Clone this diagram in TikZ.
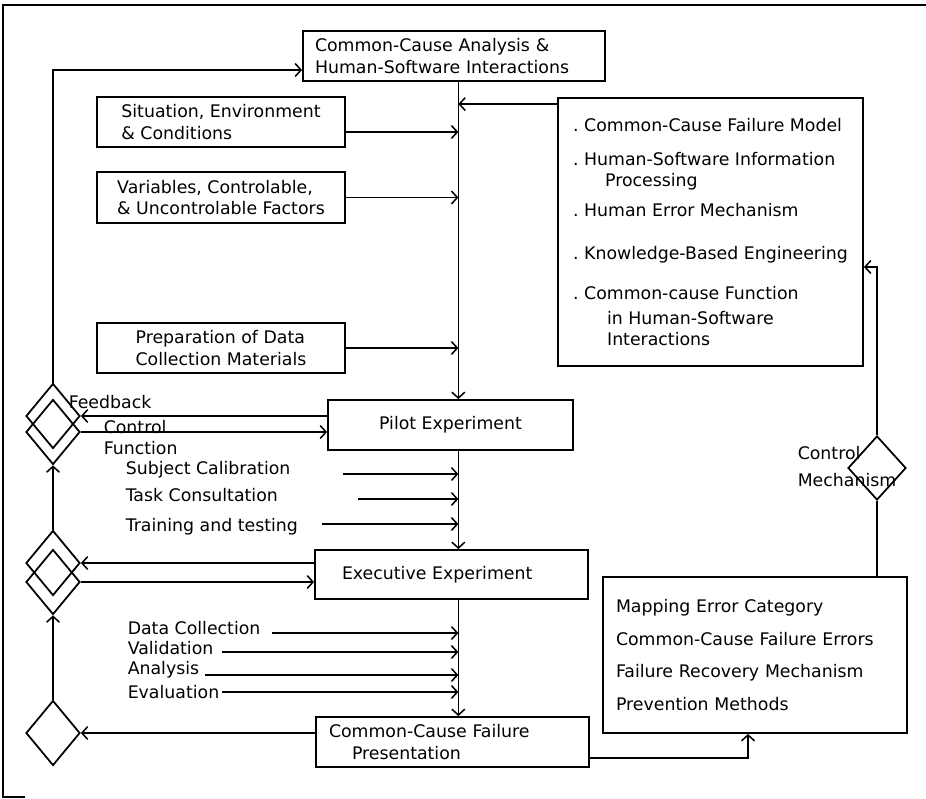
\documentclass[tikz,border=0pt]{standalone}
\usepackage{fontspec}
\setmainfont{DejaVu Sans}
\usetikzlibrary{shapes.geometric,arrows.meta}

\begin{document}
\begin{tikzpicture}[
  font=\fontsize{14.8}{18.5}\selectfont,
  line width=1.3pt,
  box/.style={draw, line width=1.6pt, inner sep=0pt, align=left},
  dia/.style={draw, diamond, line width=1.5pt, minimum width=1.62cm, minimum height=1.95cm, inner sep=0pt},
  lbl/.style={inner sep=0pt, anchor=west, align=left},
  arr/.style={-{Straight Barb[length=5pt,width=11pt]}}]
  \useasboundingbox (0,0) rectangle (27.78,-23.97);
  \draw[line width=1.5pt] (27.78,-0.15) -- (0.09,-0.15) -- (0.09,-23.91) -- (0.75,-23.91);

  \node[box, minimum width=9.06cm, minimum height=1.5cm, text width=8.34cm] (ccahsi) at (13.62,-1.68)
    {Common-Cause Analysis \&\\Human-Software Interactions};
  \node[box, minimum width=7.44cm, minimum height=1.5cm] (sit) at (6.63,-3.66)
    {Situation, Environment\\\& Conditions};
  \node[box, minimum width=7.44cm, minimum height=1.53cm] (var) at (6.63,-5.925)
    {Variables, Controlable,\\\& Uncontrolable Factors};
  \node[box, minimum width=7.44cm, minimum height=1.5cm] (prep) at (6.63,-10.44)
    {Preparation of Data\\Collection Materials};
  \node[box, minimum width=7.35cm, minimum height=1.5cm] (pilot) at (13.515,-12.75) {Pilot Experiment};
  \node[box, minimum width=8.19cm, minimum height=1.47cm, text width=6.57cm] (exec) at (13.545,-17.235)
    {Executive Experiment};
  \node[box, minimum width=8.19cm, minimum height=1.5cm, text width=7.41cm] (ccf) at (13.575,-22.26)
    {Common-Cause Failure\\\hspace*{0.69cm}Presentation};
  \node[box, minimum width=9.15cm, minimum height=8.04cm] (model) at (21.315,-6.96)
    {.\ Common-Cause Failure Model\\[10.4pt]
     .\ Human-Software Information\\
     \hspace*{0.96cm}Processing\\[7pt]
     .\ Human Error Mechanism\\[18pt]
     .\ Knowledge-Based Engineering\\[15.5pt]
     .\ Common-cause Function\\[2.7pt]
     \hspace*{1.02cm}in Human-Software\\
     \hspace*{1.02cm}Interactions};
  \node[box, minimum width=9.12cm, minimum height=4.68cm, text width=8.34cm] (mapping) at (22.65,-19.65)
    {Mapping Error Category\\[9.5pt]
     Common-Cause Failure Errors\\[9.5pt]
     Failure Recovery Mechanism\\[9.5pt]
     Prevention Methods};

  \node[dia] (d1) at (1.59,-12.48) {};
  \node[dia] (d2) at (1.59,-12.96) {};
  \node[dia] (d3) at (1.59,-16.89) {};
  \node[dia] (d4) at (1.59,-17.46) {};
  \node[dia] (d5) at (1.59,-21.99) {};
  \node[dia, minimum width=1.74cm, minimum height=1.92cm] (ctrl) at (26.31,-14.04) {};

  \node[lbl] (lblfb) at (2.04,-12.06) {Feedback};
  \node[lbl] (lblcf) at (3.09,-13.125) {Control\\Function};
  \node[lbl] (lblsubj) at (3.75,-14.1) {Subject Calibration};
  \node[lbl] (lbltask) at (3.75,-14.85) {Task Consultation};
  \node[lbl] (lbltrain) at (3.75,-15.81) {Training and testing};
  \node[lbl] (lbldata) at (3.81,-18.84) {Data Collection};
  \node[lbl] (lblval) at (3.81,-19.44) {Validation};
  \node[lbl] (lblana) at (3.81,-20.1) {Analysis};
  \node[lbl] (lbleval) at (3.81,-20.76) {Evaluation};
  \node[lbl] (lblmech) at (23.91,-14.0) {Control\\[4.3pt]Mechanism};

  \coordinate (sp) at (13.75,0);
  \coordinate (subj) at (10.29,-14.22);
  \coordinate (task) at (10.74,-14.97);
  \coordinate (train) at (9.66,-15.72);
  \coordinate (data) at (8.16,-18.99);
  \coordinate (val) at (6.66,-19.56);
  \coordinate (ana) at (6.15,-20.25);
  \coordinate (eval) at (6.66,-20.76);

  \draw[arr] (d1.north) |- ([yshift=-4.2mm]ccahsi.west);
  \draw[arr] (ccahsi.south -| sp) -- (pilot.north -| sp);
  \draw[arr] ([yshift=-3mm]sit.east) -- ([yshift=-3mm]sit.east -| sp);
  \draw[arr] (var.east) -- (var.east -| sp);
  \draw[arr] (prep.east) -- (prep.east -| sp);
  \draw[arr] ([yshift=-2.1mm]model.north west) -- ([yshift=-2.1mm]model.north west -| sp);
  \draw[arr] (pilot.south -| sp) -- (exec.north -| sp);
  \draw[arr] (exec.south -| sp) -- (ccf.north -| sp);
  \foreach \c in {subj,task,train,data,val,ana,eval}
    \draw[arr] (\c) -- (\c -| sp);
  \draw[arr] (d1.east -| pilot.west) -- (d1.east);
  \draw[arr] (d2.east) -- (d2.east -| pilot.west);
  \draw[arr] (d3.east -| exec.west) -- (d3.east);
  \draw[arr] (d4.east) -- (d4.east -| exec.west);
  \draw[arr] (d5.east -| ccf.west) -- (d5.east);
  \draw[arr] (d3.north) -- (d2.south);
  \draw[arr] (d5.north) -- (d4.south);
  \draw[arr] ([yshift=-4.8mm]ccf.east) -| ([xshift=-2.1mm]mapping.south);
  \draw (ctrl.south) -- (ctrl.south |- mapping.north);
  \draw[arr] (ctrl.north) |- ([yshift=-10.5mm]model.east);
\end{tikzpicture}
\end{document}
